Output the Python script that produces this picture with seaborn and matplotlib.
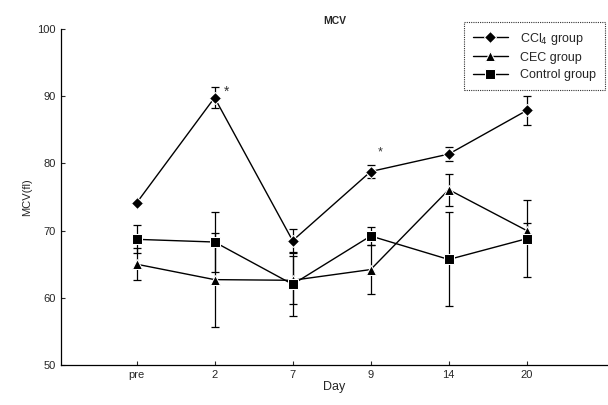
import pandas as pd
import matplotlib.pyplot as plt
import seaborn as sns

sns.set_style("white")
plt.rcParams["font.family"] = ["Liberation Sans", "DejaVu Sans"]

days = ["pre", "2", "7", "9", "14", "20"]
ccl4 = [74.1, 89.8, 68.5, 78.8, 81.4, 87.9]
ccl4_err = [0.0, 1.6, 1.7, 0.9, 1.1, 2.1]
cec = [65.0, 62.7, 62.6, 64.2, 76.1, 70.0]
cec_err = [2.4, 7.0, 3.6, 3.7, 2.4, 1.2]
control = [68.7, 68.3, 62.0, 69.2, 65.7, 68.8]
control_err = [2.1, 4.4, 4.7, 1.3, 7.0, 5.7]

groups = ["CCl$_4$ group", "CEC group", "Control group"]
means = [ccl4, cec, control]
errs = [ccl4_err, cec_err, control_err]
markers = ["D", "^", "s"]
msizes = [6.5, 7.5, 6.5]

rows = []
for g, m, e in zip(groups, means, errs):
    for i, d in enumerate(days):
        rows.append({"pos": i, "Day": d, "MCV": m[i], "err": e[i], "group": g})
df = pd.DataFrame(rows)

fig = plt.figure(figsize=(6.08, 4.05), dpi=100)
ax = fig.add_axes([0.1, 0.099, 0.9, 0.829])

for g, mk, ms in zip(groups, markers, msizes):
    sub = df[df.group == g]
    ax.errorbar(sub.pos, sub.MCV, yerr=sub.err, fmt="none", ecolor="black",
                elinewidth=0.9, capsize=3, capthick=0.9, zorder=2)
    sns.lineplot(data=sub, x="pos", y="MCV", marker=mk, color="black", lw=1,
                 markersize=ms, label=g, ax=ax, zorder=3)

# significance marks
ax.text(1.15, 90.6, "*", fontsize=10, color="#333333", ha="center", va="center")
ax.text(3.12, 81.7, "*", fontsize=9, color="#333333", ha="center", va="center")

ax.set_xlim(-0.97, 6.04)
ax.set_ylim(50, 100)
ax.set_xticks(range(len(days)))
ax.set_xticklabels(days)
ax.set_yticks([50, 60, 70, 80, 90, 100])
ax.tick_params(direction="in", length=3, width=0.8, labelsize=8, left=True, bottom=True)
ax.set_xlabel("Day", fontsize=9, labelpad=1)
ax.set_ylabel("MCV(fl)", fontsize=8)
ax.set_title("MCV", fontsize=7.5, fontweight="bold", pad=4)
for s in ["top", "right"]:
    ax.spines[s].set_visible(False)
for s in ["left", "bottom"]:
    ax.spines[s].set_color("black")
    ax.spines[s].set_linewidth(0.9)

leg = ax.legend(loc="upper right", bbox_to_anchor=(0.995, 0.946),
                bbox_transform=fig.transFigure, borderaxespad=0, fontsize=9,
                frameon=True, fancybox=False, edgecolor="black", handlelength=2.8,
                handletextpad=1.0, borderpad=0.7, labelspacing=0.42)
leg.get_frame().set_linewidth(0.8)
leg.get_frame().set_linestyle((0, (1, 1)))

fig.savefig("out.png", dpi=100)
